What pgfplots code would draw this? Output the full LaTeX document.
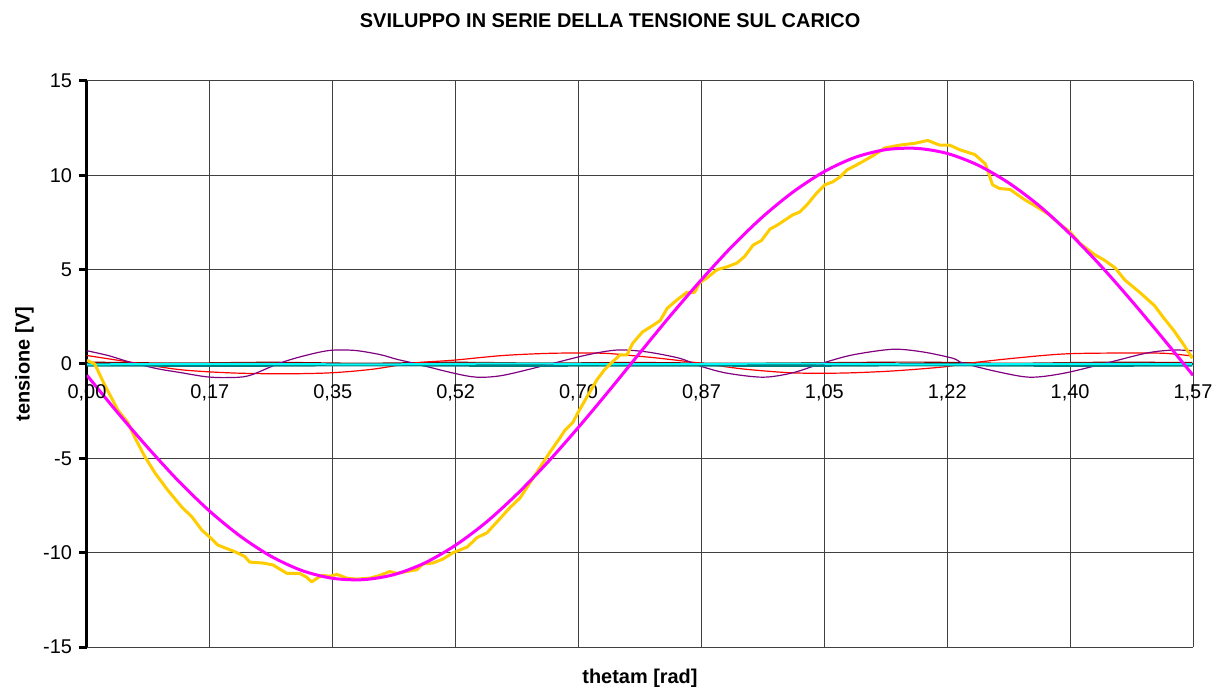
\documentclass[border=0pt]{standalone}
\usepackage{fontspec}
\setmainfont{Liberation Sans}
\usepackage{pgfplots}
\pgfplotsset{compat=1.18}
\definecolor{exyellow}{RGB}{255,204,0}
\definecolor{exmagenta}{RGB}{255,0,255}
\definecolor{exred}{RGB}{255,0,0}
\definecolor{expurple}{RGB}{128,0,128}
\definecolor{exdarkred}{RGB}{128,0,0}
\definecolor{excyan}{RGB}{0,255,255}
\definecolor{exteal}{RGB}{0,128,128}
\begin{document}
\begin{tikzpicture}
\useasboundingbox (-43.5bp,-20bp) rectangle (563.5bp,323.5bp);
\begin{axis}[
  at={(0,0)}, anchor=south west,
  scale only axis, width=553bp, height=283bp,
  xmin=0, xmax=1.570796, ymin=-15, ymax=15,
  axis x line=middle, axis y line=left,
  axis line style={-},
  y axis line style={line width=1.5bp},
  x axis line style={line width=0.6bp},
  xtick={0,0.174533,0.349066,0.523599,0.698132,0.872665,1.047198,1.221730,1.396263,1.570796},
  xticklabels={{0,00},{0,17},{0,35},{0,52},{0,70},{0,87},{1,05},{1,22},{1,40},{1,57}},
  ytick={-15,-10,-5,0,5,10,15},
  grid=major,
  major grid style={line width=0.5bp, gray!50!black},
  tick align=outside, major tick length=4bp,
  y tick style={line width=1.5bp, black},
  x tick style={draw=none},
  ticklabel style={font=\fontsize{10}{12}\selectfont},
  /pgf/number format/assume math mode=true,
  xticklabel style={yshift=-3bp},
  title={SVILUPPO IN SERIE DELLA TENSIONE SUL CARICO},
  title style={at={(axis description cs:0.473,1.085)}, anchor=center, font=\bfseries\fontsize{10}{12}\selectfont},
  xlabel={thetam [rad]}, ylabel={tensione [V]},
  label style={font=\bfseries\fontsize{10}{12}\selectfont},
  xlabel style={at={(axis description cs:0.5,-0.055)}, anchor=center},
  ylabel style={at={(axis description cs:-0.0565,0.5)}, anchor=center},
]
% dark red
\addplot[exdarkred, line width=0.6bp, smooth] coordinates {
(0,0.10)(0.13,0.05)(0.26,0.09)(0.39,0.04)(0.52,0.09)(0.65,0.05)(0.78,0.08)(0.91,0.04)(1.05,0.07)(1.18,0.10)(1.31,0.04)(1.44,0.09)(1.57,0.08)};
% red
\addplot[exred, line width=0.6bp, smooth] coordinates {
(0.000,0.45)(0.061,0.10)(0.132,-0.30)(0.203,-0.47)(0.274,-0.52)(0.345,-0.47)(0.405,-0.28)(0.463,0.05)(0.520,0.20)(0.591,0.45)(0.662,0.57)(0.733,0.57)(0.781,0.42)(0.814,0.30)(0.870,0.05)(0.931,-0.26)(1.002,-0.47)(1.073,-0.48)(1.144,-0.37)(1.215,-0.16)(1.254,0.05)(1.315,0.30)(1.386,0.53)(1.457,0.58)(1.528,0.57)(1.570,0.42)};
% purple
\addplot[expurple, line width=0.6bp, smooth] coordinates {
(0,0.70)(0.030,0.45)(0.061,0.10)(0.100,-0.25)(0.132,-0.45)(0.170,-0.68)(0.200,-0.72)(0.230,-0.62)(0.274,0.05)(0.310,0.45)(0.345,0.72)(0.380,0.72)(0.416,0.50)(0.440,0.25)(0.463,0.05)(0.520,-0.48)(0.554,-0.70)(0.591,-0.60)(0.653,-0.05)(0.710,0.48)(0.753,0.74)(0.795,0.64)(0.842,0.30)(0.870,-0.10)(0.908,-0.48)(0.960,-0.70)(1.002,-0.47)(1.045,0.05)(1.087,0.48)(1.144,0.78)(1.187,0.64)(1.230,0.30)(1.244,0.05)(1.292,-0.40)(1.339,-0.70)(1.386,-0.50)(1.448,0.05)(1.505,0.58)(1.542,0.74)(1.570,0.70)};
% teal
\addplot[exteal, line width=1bp, smooth] coordinates {
(0,-0.08)(0.2,-0.10)(0.4,-0.07)(0.6,-0.10)(0.8,-0.08)(1.0,-0.10)(1.2,-0.07)(1.4,-0.10)(1.57,-0.08)};
% cyan
\addplot[excyan, line width=1bp, smooth] coordinates {
(0,-0.02)(0.2,0.01)(0.4,-0.02)(0.6,0.02)(0.8,-0.01)(1.0,0.02)(1.2,-0.02)(1.4,0.01)(1.57,-0.01)};
% yellow (total)
\addplot[exyellow, line width=1.5bp, line join=round] coordinates {
(0.000,0.2)(0.011,0.0)(0.025,-1.1)(0.044,-2.45)(0.058,-3.1)(0.068,-3.9)(0.082,-4.9)(0.097,-5.8)(0.115,-6.7)(0.135,-7.6)(0.149,-8.1)(0.163,-8.8)(0.175,-9.2)(0.186,-9.6)(0.210,-9.95)(0.224,-10.2)(0.231,-10.5)(0.250,-10.55)(0.264,-10.65)(0.284,-11.1)(0.302,-11.1)(0.312,-11.3)(0.319,-11.55)(0.327,-11.35)(0.334,-11.2)(0.345,-11.25)(0.355,-11.15)(0.369,-11.35)(0.383,-11.4)(0.402,-11.35)(0.416,-11.2)(0.430,-11.0)(0.440,-11.1)(0.454,-11.0)(0.469,-10.9)(0.477,-10.6)(0.491,-10.55)(0.505,-10.35)(0.520,-10.0)(0.540,-9.7)(0.554,-9.2)(0.568,-8.95)(0.584,-8.3)(0.601,-7.6)(0.615,-7.1)(0.629,-6.3)(0.643,-5.5)(0.657,-4.7)(0.672,-3.9)(0.679,-3.5)(0.690,-3.1)(0.697,-2.6)(0.710,-1.75)(0.724,-0.85)(0.735,-0.3)(0.743,0.0)(0.757,0.48)(0.767,0.48)(0.775,1.1)(0.789,1.7)(0.804,2.05)(0.814,2.3)(0.824,2.95)(0.838,3.4)(0.852,3.8)(0.863,3.8)(0.870,4.3)(0.880,4.55)(0.895,5.0)(0.909,5.15)(0.923,5.35)(0.934,5.7)(0.946,6.3)(0.958,6.55)(0.970,7.15)(0.980,7.35)(0.994,7.7)(1.002,7.9)(1.012,8.05)(1.024,8.5)(1.036,9.05)(1.048,9.5)(1.059,9.65)(1.069,9.9)(1.080,10.3)(1.098,10.65)(1.119,11.1)(1.133,11.45)(1.154,11.6)(1.176,11.7)(1.194,11.85)(1.211,11.6)(1.225,11.6)(1.240,11.35)(1.261,11.1)(1.276,10.6)(1.286,9.5)(1.296,9.3)(1.311,9.25)(1.332,8.7)(1.346,8.4)(1.367,7.9)(1.382,7.4)(1.396,7.0)(1.410,6.4)(1.431,5.8)(1.445,5.5)(1.460,5.1)(1.474,4.45)(1.495,3.8)(1.516,3.1)(1.529,2.45)(1.543,1.8)(1.558,1.0)(1.570,0.3)};
% magenta (fundamental)
\addplot[exmagenta, line width=1.5bp, smooth] coordinates {
(0.0000,-0.60)(0.0436,-2.58)(0.0873,-4.47)(0.1309,-6.24)(0.1745,-7.81)(0.2182,-9.14)(0.2618,-10.20)(0.3054,-10.95)(0.3491,-11.36)(0.3927,-11.43)(0.4363,-11.16)(0.4800,-10.54)(0.5236,-9.60)(0.5672,-8.38)(0.6109,-6.89)(0.6545,-5.20)(0.6981,-3.35)(0.7418,-1.40)(0.7854,0.60)(0.8290,2.58)(0.8727,4.47)(0.9163,6.24)(0.9599,7.81)(1.0036,9.14)(1.0472,10.20)(1.0908,10.95)(1.1345,11.36)(1.1781,11.43)(1.2217,11.16)(1.2654,10.54)(1.3090,9.60)(1.3526,8.38)(1.3963,6.89)(1.4399,5.20)(1.4835,3.35)(1.5272,1.40)(1.5708,-0.60)};
\coordinate (origin) at (axis cs:0,0);
\end{axis}
\node[anchor=north, font=\fontsize{10}{12}\selectfont, yshift=-7bp] at (origin) {0,00};
\end{tikzpicture}
\end{document}
